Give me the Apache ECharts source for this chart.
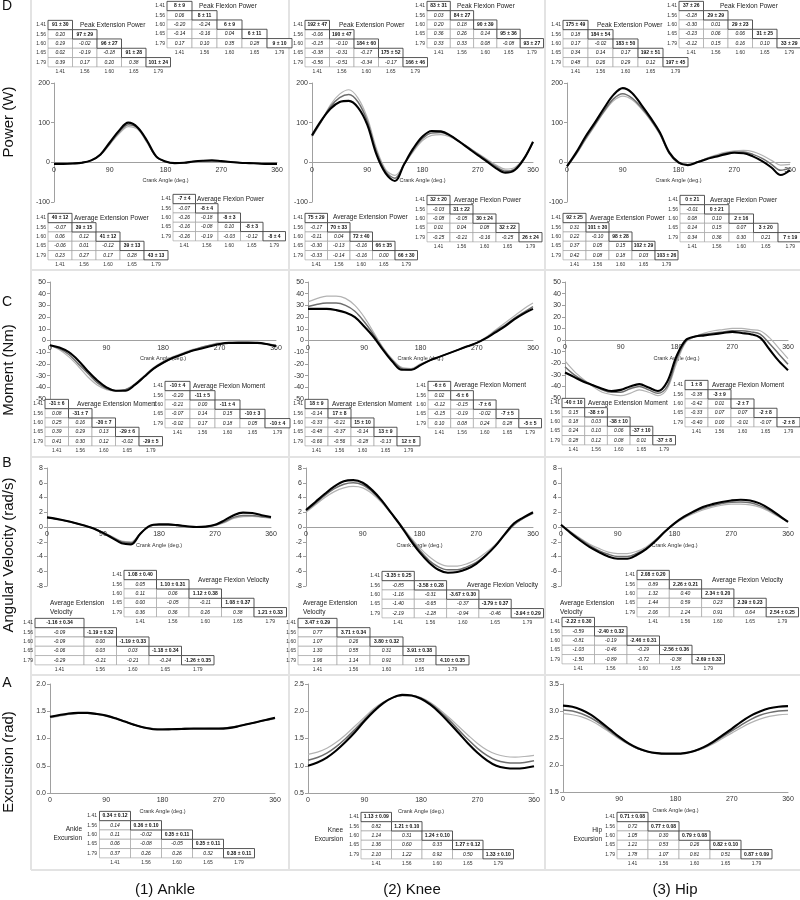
<!DOCTYPE html>
<html><head><meta charset="utf-8">
<script src="https://cdn.jsdelivr.net/npm/echarts@6/dist/echarts.min.js"></script>
<style>html,body{margin:0;padding:0;background:#fff}#c{width:800px;height:900px}</style>
</head><body><div id="c"></div>
<script>
// ---------------- DATA ----------------
const ang = [0,15,30,45,60,75,90,105,120,135,150,165,180,195,210,225,240,255,270,285,300,315,330,345,360];
const cad = ['1.41','1.56','1.60','1.65','1.79'];
const colNames = ['(1) Ankle','(2) Knee','(3) Hip'];
const rowNames = ['Power (W)','Moment (Nm)','Angular Velocity (rad/s)','Excursion (rad)'];
const rowLetters = ['D','C','B','A'];

// Power (W)
const ankPowL = [-4,-4,-3,-1,4,18,45,72,90,83,50,14,2,-2,-1,2,3,4,3,1,-1,-2,-3,-4,-4];
const ankPowG = [-4,-4,-3,-1,5,19,47,76,95,87,52,14,2,-2,-1,2,4,4,3,1,-1,-2,-3,-4,-4];
const ankPowK = [-4,-4,-3,-1,5,20,50,80,100,88,55,15,2,-2,-1,2,4,5,3,1,-1,-2,-3,-4,-4];
const knePowL = [64,102,145,172,183,162,113,35,-18,-33,-5,27,55,68,70,64,52,38,23,8,-7,-17,-13,10,50];
const knePowG = [66,103,140,163,171,152,104,27,-23,-40,-6,31,60,74,75,67,53,37,21,5,-11,-22,-17,9,51];
const knePowK = [68,105,135,152,155,138,95,20,-28,-47,-5,35,65,79,78,68,52,35,18,2,-15,-26,-20,8,52];
const hipPowL = [-10,20,57,92,127,155,167,158,135,106,70,22,-2,-5,1,10,18,25,29,30,27,18,5,-7,-5];
const hipPowG = [-10,22,60,95,130,160,173,162,138,108,72,23,-1,-6,0,9,16,22,26,26,20,10,-5,-20,-14];
const hipPowK = [-10,25,65,100,137,170,187,175,145,112,75,25,0,-7,0,8,14,20,24,23,15,3,-13,-32,-20];
// Moment (Nm)
const ankMomL = [-4,-8,-14,-22,-31,-38,-42,-43,-42,-37,-30,-23,-18,-14,-11,-8,-6,-4,-2,-2,-1,-1,-2,-3,-4];
const ankMomG = [-4,-7,-12,-20,-28,-36,-41,-43,-42,-38,-31,-24,-19,-15,-12,-9,-6,-4,-3,-2,-2,-2,-2,-3,-4];
const ankMomK = [-4,-6,-10,-17,-26,-34,-40,-43,-43,-38,-31,-24,-19,-15,-12,-9,-7,-5,-3,-2,-2,-2,-2,-3,-5];
const kneMomL = [33,36,38,38,36,30,20,7,-6,-16,-23,-24,-20,-17,-14,-11,-8,-5,-2,3,9,15,21,27,32];
const kneMomG = [29,31,32,32,30,25,16,5,-7,-17,-24,-25,-21,-17,-14,-11,-8,-5,-2,2,8,13,19,24,29];
const kneMomK = [27,27,27,26,24,20,12,3,-8,-18,-25,-25,-21,-17,-14,-11,-8,-5,-2,2,7,12,18,23,27];
const hipMomL = [-18,-27,-34,-40,-45,-47,-48,-46,-43,-45,-48,-42,-20,-2,3,6,8,9,10,10,9,8,2,-7,-16];
const hipMomG = [-23,-30,-35,-39,-43,-45,-45,-42,-40,-43,-46,-40,-17,-1,3,5,6,7,8,8,7,5,-3,-12,-21];
const hipMomK = [-28,-32,-36,-39,-42,-44,-43,-40,-38,-41,-44,-36,-14,0,3,4,5,6,7,6,5,2,-8,-18,-26];
// Angular velocity (rad/s)
const ankVelL = [1.25,1.05,0.8,0.5,0.2,-0.2,-0.7,-1.3,-1.9,-2.0,-0.85,0.1,0.3,0.3,0.2,0.05,0.0,0.05,0.2,0.6,1.15,1.4,1.45,1.35,1.2];
const ankVelG = [1.3,1.1,0.85,0.55,0.2,-0.2,-0.75,-1.4,-2.0,-2.15,-0.9,0.1,0.3,0.3,0.2,0.05,0.0,0.05,0.25,0.7,1.3,1.55,1.55,1.4,1.25];
const ankVelK = [1.3,1.1,0.85,0.55,0.2,-0.2,-0.8,-1.5,-2.2,-2.35,-0.9,0.15,0.35,0.35,0.25,0.1,0.0,0.05,0.3,0.9,1.6,1.95,1.9,1.6,1.35];
const kneVelL = [2.0,3.0,4.0,4.8,5.3,5.5,5.3,4.5,3.3,1.8,0.3,-1.3,-2.8,-4.0,-4.9,-5.3,-5.3,-5.0,-4.4,-3.5,-2.4,-1.0,0.3,1.2,1.8];
const kneVelG = [2.2,3.2,4.3,5.2,5.8,6.0,5.7,4.8,3.5,1.9,0.3,-1.5,-3.1,-4.5,-5.4,-5.8,-5.8,-5.4,-4.8,-3.8,-2.6,-1.1,0.3,1.2,1.9];
const kneVelK = [2.3,3.4,4.5,5.5,6.2,6.35,6.0,5.0,3.6,1.9,0.2,-1.7,-3.4,-4.8,-5.8,-6.2,-6.1,-5.7,-5.0,-3.9,-2.6,-1.0,0.5,1.3,2.0];
const hipVelL = [0.3,-0.6,-1.5,-2.3,-2.9,-3.4,-3.6,-3.6,-3.3,-2.7,-1.7,-0.6,0.4,1.2,1.8,2.3,2.7,2.95,3.1,3.1,3.0,2.7,2.1,1.4,0.7];
const hipVelG = [0.3,-0.7,-1.6,-2.5,-3.2,-3.7,-4.0,-4.0,-3.6,-2.9,-1.8,-0.6,0.5,1.3,2.0,2.5,2.9,3.2,3.35,3.4,3.3,2.9,2.3,1.5,0.7];
const hipVelK = [0.3,-0.8,-1.8,-2.7,-3.4,-4.0,-4.3,-4.3,-3.8,-3.0,-1.9,-0.6,0.5,1.4,2.1,2.7,3.1,3.4,3.6,3.7,3.6,3.2,2.5,1.6,0.7];
// Excursion (rad)
const ankExcL = [1.38,1.41,1.44,1.46,1.46,1.44,1.41,1.36,1.31,1.25,1.21,1.18,1.175,1.18,1.185,1.19,1.19,1.195,1.195,1.20,1.23,1.26,1.30,1.33,1.36];
const ankExcG = [1.39,1.42,1.45,1.465,1.465,1.45,1.42,1.37,1.31,1.25,1.20,1.18,1.17,1.175,1.18,1.185,1.19,1.19,1.19,1.20,1.22,1.26,1.30,1.34,1.37];
const ankExcK = [1.40,1.43,1.46,1.47,1.47,1.45,1.42,1.37,1.31,1.25,1.20,1.17,1.165,1.17,1.175,1.18,1.18,1.18,1.18,1.19,1.22,1.26,1.30,1.34,1.38];
const kneExcL = [1.21,1.25,1.32,1.43,1.57,1.73,1.89,2.05,2.17,2.25,2.29,2.29,2.25,2.16,2.03,1.88,1.72,1.56,1.41,1.29,1.21,1.17,1.16,1.17,1.19];
const kneExcG = [1.10,1.15,1.23,1.35,1.50,1.67,1.85,2.02,2.16,2.25,2.29,2.29,2.24,2.14,2.00,1.84,1.66,1.48,1.32,1.19,1.10,1.06,1.05,1.06,1.09];
const kneExcK = [1.00,1.06,1.15,1.28,1.44,1.62,1.82,2.00,2.15,2.25,2.30,2.29,2.23,2.12,1.97,1.79,1.60,1.41,1.24,1.10,1.00,0.96,0.95,0.96,0.99];
const hipExcL = [2.95,2.93,2.89,2.82,2.72,2.60,2.48,2.38,2.30,2.25,2.22,2.21,2.21,2.22,2.25,2.31,2.39,2.49,2.59,2.69,2.78,2.85,2.90,2.93,2.94];
const hipExcG = [3.02,3.00,2.95,2.87,2.76,2.63,2.50,2.39,2.30,2.25,2.22,2.21,2.21,2.22,2.26,2.32,2.41,2.52,2.63,2.74,2.84,2.92,2.97,3.00,3.01];
const hipExcK = [3.10,3.08,3.02,2.93,2.80,2.66,2.52,2.40,2.31,2.25,2.22,2.21,2.21,2.22,2.26,2.33,2.43,2.55,2.67,2.80,2.91,2.99,3.05,3.08,3.09];

// Tables: diagonal (mean ± sd) and lower-triangle correlations
const ankPkExtPowD = ['91 ± 30','97 ± 29','96 ± 27','91 ± 28','101 ± 24'];
const ankPkExtPowR = [['0.20'],['0.19','-0.02'],['0.02','-0.19','-0.18'],['0.39','0.17','0.20','0.38']];
const ankPkFlxPowD = ['8 ± 9','8 ± 11','6 ± 9','6 ± 11','9 ± 10'];
const ankPkFlxPowR = [['0.06'],['-0.20','-0.24'],['-0.14','-0.16','0.04'],['0.17','0.10','0.35','0.28']];
const ankAvFlxPowD = ['-7 ± 4','-8 ± 4','-8 ± 3','-8 ± 3','-8 ± 4'];
const ankAvFlxPowR = [['-0.07'],['-0.26','-0.18'],['-0.16','-0.08','0.10'],['-0.26','-0.19','-0.03','-0.12']];
const ankAvExtPowD = ['40 ± 12','39 ± 15','41 ± 12','39 ± 13','43 ± 13'];
const ankAvExtPowR = [['-0.07'],['0.06','0.12'],['-0.06','0.01','-0.12'],['0.23','0.27','0.17','0.28']];
const ankAvFlxMomD = ['-10 ± 4','-11 ± 5','-11 ± 4','-10 ± 3','-10 ± 4'];
const ankAvFlxMomR = [['-0.20'],['-0.21','0.00'],['-0.07','0.14','0.15'],['-0.02','0.17','0.18','0.05']];
const ankAvExtMomD = ['-31 ± 6','-31 ± 7','-30 ± 7','-29 ± 6','-29 ± 5'];
const ankAvExtMomR = [['0.08'],['0.25','0.16'],['0.39','0.29','0.13'],['0.41','0.30','0.12','-0.02']];
const ankAvFlxVelD = ['1.08 ± 0.40','1.10 ± 0.31','1.12 ± 0.38','1.08 ± 0.37','1.21 ± 0.33'];
const ankAvFlxVelR = [['0.05'],['0.11','0.06'],['0.00','-0.05','-0.11'],['0.36','0.36','0.26','0.38']];
const ankAvExtVelD = ['-1.16 ± 0.34','-1.19 ± 0.32','-1.19 ± 0.33','-1.18 ± 0.34','-1.26 ± 0.35'];
const ankAvExtVelR = [['-0.09'],['-0.09','0.00'],['-0.06','0.03','0.03'],['-0.29','-0.21','-0.21','-0.24']];
const ankExcD = ['0.34 ± 0.12','0.36 ± 0.10','0.35 ± 0.11','0.35 ± 0.11','0.38 ± 0.11'];
const ankExcR = [['0.14'],['0.11','-0.02'],['0.06','-0.08','-0.05'],['0.37','0.26','0.26','0.32']];
const knePkExtPowD = ['192 ± 47','190 ± 47','184 ± 60','175 ± 52','166 ± 46'];
const knePkExtPowR = [['-0.06'],['-0.15','-0.10'],['-0.38','-0.31','-0.17'],['-0.56','-0.51','-0.34','-0.17']];
const knePkFlxPowD = ['83 ± 31','84 ± 27','90 ± 39','95 ± 36','93 ± 27'];
const knePkFlxPowR = [['0.03'],['0.20','0.18'],['0.36','0.26','0.14'],['0.33','0.33','0.08','-0.08']];
const kneAvFlxPowD = ['32 ± 20','31 ± 22','30 ± 24','32 ± 22','26 ± 24'];
const kneAvFlxPowR = [['-0.03'],['-0.08','-0.05'],['0.01','0.04','0.08'],['-0.25','-0.21','-0.16','-0.25']];
const kneAvExtPowD = ['75 ± 29','70 ± 33','72 ± 40','66 ± 35','66 ± 30'];
const kneAvExtPowR = [['-0.17'],['-0.11','0.04'],['-0.30','-0.13','-0.16'],['-0.33','-0.14','-0.16','0.00']];
const kneAvFlxMomD = ['-6 ± 6','-6 ± 6','-7 ± 6','-7 ± 5','-5 ± 5'];
const kneAvFlxMomR = [['0.02'],['-0.12','-0.15'],['-0.15','-0.19','-0.02'],['0.10','0.08','0.24','0.28']];
const kneAvExtMomD = ['18 ± 9','17 ± 8','15 ± 10','13 ± 9','12 ± 8'];
const kneAvExtMomR = [['-0.14'],['-0.33','-0.21'],['-0.48','-0.37','-0.14'],['-0.66','-0.56','-0.28','-0.13']];
const kneAvFlxVelD = ['-3.35 ± 0.25','-3.58 ± 0.28','-3.67 ± 0.30','-3.79 ± 0.37','-3.94 ± 0.29'];
const kneAvFlxVelR = [['-0.85'],['-1.16','-0.31'],['-1.40','-0.65','-0.37'],['-2.19','-1.28','-0.94','-0.46']];
const kneAvExtVelD = ['3.47 ± 0.29','3.71 ± 0.34','3.80 ± 0.32','3.91 ± 0.38','4.10 ± 0.35'];
const kneAvExtVelR = [['0.77'],['1.07','0.26'],['1.30','0.55','0.31'],['1.96','1.14','0.91','0.53']];
const kneExcD = ['1.13 ± 0.09','1.21 ± 0.10','1.24 ± 0.10','1.27 ± 0.12','1.33 ± 0.10'];
const kneExcR = [['0.82'],['1.14','0.31'],['1.36','0.60','0.33'],['2.10','1.22','0.92','0.50']];
const hipPkExtPowD = ['175 ± 49','184 ± 54','183 ± 50','192 ± 51','197 ± 45'];
const hipPkExtPowR = [['0.18'],['0.17','-0.02'],['0.34','0.14','0.17'],['0.48','0.26','0.29','0.12']];
const hipPkFlxPowD = ['37 ± 26','29 ± 29','29 ± 23','31 ± 25','33 ± 29'];
const hipPkFlxPowR = [['-0.28'],['-0.30','0.01'],['-0.23','0.06','0.06'],['-0.12','0.15','0.16','0.10']];
const hipAvFlxPowD = ['0 ± 21','0 ± 21','2 ± 16','3 ± 20','7 ± 19'];
const hipAvFlxPowR = [['-0.01'],['0.08','0.10'],['0.14','0.15','0.07'],['0.34','0.36','0.30','0.21']];
const hipAvExtPowD = ['92 ± 25','101 ± 30','98 ± 28','102 ± 29','103 ± 26'];
const hipAvExtPowR = [['0.31'],['0.22','-0.10'],['0.37','0.05','0.15'],['0.42','0.08','0.18','0.03']];
const hipAvFlxMomD = ['1 ± 8','-3 ± 9','-2 ± 7','-2 ± 8','-2 ± 8'];
const hipAvFlxMomR = [['-0.38'],['-0.42','0.01'],['-0.33','0.07','0.07'],['-0.40','0.00','-0.01','-0.07']];
const hipAvExtMomD = ['-40 ± 10','-38 ± 9','-38 ± 10','-37 ± 10','-37 ± 8'];
const hipAvExtMomR = [['0.15'],['0.18','0.03'],['0.24','0.10','0.06'],['0.28','0.12','0.08','0.01']];
const hipAvFlxVelD = ['2.08 ± 0.20','2.26 ± 0.21','2.34 ± 0.20','2.39 ± 0.23','2.54 ± 0.25'];
const hipAvFlxVelR = [['0.89'],['1.32','0.40'],['1.44','0.59','0.23'],['2.06','1.24','0.91','0.64']];
const hipAvExtVelD = ['-2.22 ± 0.30','-2.40 ± 0.32','-2.46 ± 0.31','-2.56 ± 0.36','-2.69 ± 0.33'];
const hipAvExtVelR = [['-0.59'],['-0.81','-0.19'],['-1.03','-0.46','-0.29'],['-1.50','-0.89','-0.72','-0.38']];
const hipExcD = ['0.71 ± 0.08','0.77 ± 0.08','0.79 ± 0.08','0.82 ± 0.10','0.87 ± 0.09'];
const hipExcR = [['0.72'],['1.05','0.30'],['1.21','0.53','0.26'],['1.78','1.07','0.81','0.51']];

// ---------------- LAYOUT ----------------
const FF = '"Liberation Sans", Arial, sans-serif';
const lineStyles = [{c:'#b3b3b3', w:1.2},{c:'#6e6e6e', w:1.5},{c:'#000000', w:2.1}];

const panels = [
  {l:54, t:83, w:223, h:119, y:[-100,200,100], d:[ankPowL,ankPowG,ankPowK]},
  {l:312,t:83, w:221, h:119, y:[-100,200,100], d:[knePowL,knePowG,knePowK]},
  {l:567,t:83, w:223, h:119, y:[-100,200,100], d:[hipPowL,hipPowG,hipPowK]},
  {l:50, t:282,w:226, h:117, y:[-50,50,10], d:[ankMomL,ankMomG,ankMomK]},
  {l:308,t:282,w:225, h:117, y:[-50,50,10], d:[kneMomL,kneMomG,kneMomK]},
  {l:565,t:282,w:223, h:116, y:[-50,50,10], d:[hipMomL,hipMomG,hipMomK]},
  {l:47, t:468,w:224, h:118, y:[-8,8,2], d:[ankVelL,ankVelG,ankVelK]},
  {l:306,t:468,w:227, h:118, y:[-8,8,2], d:[kneVelL,kneVelG,kneVelK]},
  {l:561,t:468,w:227, h:118, y:[-8,8,2], d:[hipVelL,hipVelG,hipVelK]},
  {l:50, t:684,w:225, h:109, y:[0,2,0.5], d:[ankExcL,ankExcG,ankExcK], f:1},
  {l:308,t:684,w:226, h:109, y:[0.5,2.5,0.5], d:[kneExcL,kneExcG,kneExcK], f:1},
  {l:563,t:684,w:225, h:108, y:[1.5,3.5,0.5], d:[hipExcL,hipExcG,hipExcK], f:1}
];

const tables = [
  {d:ankPkExtPowD, r:ankPkExtPowR, lx:46, x0:48, cw:24.5, y0:25, title:'Peak Extension Power', tx:80, ty:25},
  {d:ankPkFlxPowD, r:ankPkFlxPowR, lx:165, x0:167, cw:25, y0:6, title:'Peak Flexion Power', tx:199, ty:6},
  {d:ankAvFlxPowD, r:ankAvFlxPowR, lx:171, x0:173, cw:22.5, y0:199, title:'Average Flexion Power', tx:197, ty:199},
  {d:ankAvExtPowD, r:ankAvExtPowR, lx:46, x0:48, cw:24, y0:218, title:'Average Extension Power', tx:74, ty:218},
  {d:ankAvFlxMomD, r:ankAvFlxMomR, lx:163, x0:165, cw:25, y0:386, title:'Average Flexion Moment', tx:193, ty:386},
  {d:ankAvExtMomD, r:ankAvExtMomR, lx:43, x0:45, cw:23.5, y0:404, title:'Average Extension Moment', tx:77, ty:404},
  {d:ankAvFlxVelD, r:ankAvFlxVelR, lx:122, x0:124, cw:32.5, y0:575, title:'Average Flexion Velocity', tx:198, ty:580},
  {d:ankAvExtVelD, r:ankAvExtVelR, lx:33, x0:35, w0:49, cw:32.5, y0:623, title:'Average Extension\nVelocity', tx:50, ty:607.5},
  {d:ankExcD, r:ankExcR, lx:97, x0:99.5, cw:31, y0:816, title:'Ankle\nExcursion', tx:82, ty:834, ta:'right'},
  {d:knePkExtPowD, r:knePkExtPowR, lx:303, x0:305, cw:24.5, y0:25, title:'Peak Extension Power', tx:339, ty:25},
  {d:knePkFlxPowD, r:knePkFlxPowR, lx:425, x0:427, cw:23.3, y0:6, title:'Peak Flexion Power', tx:457, ty:6},
  {d:kneAvFlxPowD, r:kneAvFlxPowR, lx:425, x0:427, cw:23, y0:200, title:'Average Flexion Power', tx:454, ty:200},
  {d:kneAvExtPowD, r:kneAvExtPowR, lx:303, x0:305, cw:22.5, y0:218, title:'Average Extension Power', tx:333, ty:217},
  {d:kneAvFlxMomD, r:kneAvFlxMomR, lx:426, x0:428, cw:22.7, y0:386, title:'Average Flexion Moment', tx:454, ty:385},
  {d:kneAvExtMomD, r:kneAvExtMomR, lx:303, x0:305, cw:23, y0:404, title:'Average Extension Moment', tx:332, ty:404},
  {d:kneAvFlxVelD, r:kneAvFlxVelR, lx:380, x0:382, cw:32.3, y0:576, title:'Average Flexion Velocity', tx:467, ty:585},
  {d:kneAvExtVelD, r:kneAvExtVelR, lx:296, x0:298, w0:39, cw:33, y0:623, title:'Average Extension\nVelocity', tx:303, ty:607.5},
  {d:kneExcD, r:kneExcR, lx:359, x0:361, cw:30.5, y0:817, title:'Knee\nExcursion', tx:343, ty:834.5, ta:'right'},
  {d:hipPkExtPowD, r:hipPkExtPowR, lx:561, x0:563, cw:25, y0:25, title:'Peak Extension Power', tx:597, ty:25},
  {d:hipPkFlxPowD, r:hipPkFlxPowR, lx:677, x0:679, cw:24.5, y0:6, title:'Peak Flexion Power', tx:720, ty:6},
  {d:hipAvFlxPowD, r:hipAvFlxPowR, lx:678, x0:680, cw:24.5, y0:200, title:'Average Flexion Power', tx:710, ty:200},
  {d:hipAvExtPowD, r:hipAvExtPowR, lx:561, x0:563, cw:23, y0:218, title:'Average Extension Power', tx:590, ty:218},
  {d:hipAvFlxMomD, r:hipAvFlxMomR, lx:683, x0:685, cw:23, y0:385, title:'Average Flexion Moment', tx:712, ty:385},
  {d:hipAvExtMomD, r:hipAvExtMomR, lx:560, x0:562, cw:22.7, y0:403, title:'Average Extension Moment', tx:588, ty:403},
  {d:hipAvFlxVelD, r:hipAvFlxVelR, lx:635, x0:637, cw:32.3, y0:575, title:'Average Flexion Velocity', tx:712, ty:580},
  {d:hipAvExtVelD, r:hipAvExtVelR, lx:560, x0:562, cw:32.5, y0:622, title:'Average Extension\nVelocity', tx:560, ty:608},
  {d:hipExcD, r:hipExcR, lx:615, x0:617, cw:31, y0:817, title:'Hip\nExcursion', tx:602, ty:835, ta:'right'}
];

// ---------------- BUILD ----------------
const grids=[], xAxes=[], yAxes=[], series=[];
panels.forEach((p,i)=>{
  grids.push({left:p.l, top:p.t, width:p.w, height:p.h, containLabel:false, outerBoundsMode:'none'});
  // place the x axis at value 0 of the y scale (or at the bottom when 0 is out of range)
  const zeroFrac = (p.y[0] < 0 && p.y[1] > 0) ? (0 - p.y[0]) / (p.y[1] - p.y[0]) : 0;
  xAxes.push({type:'value', gridIndex:i, min:0, max:360, interval:90, position:'bottom',
    offset: -zeroFrac * p.h,
    axisLine:{show:true, onZero:false, lineStyle:{color:'#a0a0a0', width:1}},
    axisTick:{show:false}, splitLine:{show:false},
    axisLabel:{fontSize:7, color:'#333', margin:4, fontFamily:FF},
    name:'Crank Angle (deg.)', nameLocation:'middle', nameGap:15,
    nameTextStyle:{fontSize:5.5, color:'#333', fontFamily:FF}});
  yAxes.push({type:'value', gridIndex:i, min:p.y[0], max:p.y[1], interval:p.y[2],
    axisLine:{show:true, onZero:false, lineStyle:{color:'#a0a0a0', width:1}},
    axisTick:{show:true, length:3, lineStyle:{color:'#a0a0a0'}}, splitLine:{show:false},
    axisLabel:{fontSize:7, color:'#333', margin:4, fontFamily:FF,
      formatter: p.f ? (v=>v.toFixed(1)) : (v=>String(v))}});
  p.d.forEach((arr,k)=>series.push({type:'line', xAxisIndex:i, yAxisIndex:i,
    data: ang.map((a,n)=>[a,arr[n]]), smooth:0.35, showSymbol:false, symbol:'none',
    lineStyle:{color:lineStyles[k].c, width:lineStyles[k].w}, z:2+k, silent:true}));
});

const els = [];
function T(x,y,text,align,font,fill,extra){
  return Object.assign({type:'text', x:x, y:y, silent:true, z:100,
    style:{text:text, font:font, fill:fill||'#222', textAlign:align, textVerticalAlign:'middle',
      align:align, verticalAlign:'middle', lineHeight:9}}, extra||{});
}
// separators
const sepC = '#e3e3e3';
[[31,0,31,870],[289,0,289,870],[545,0,545,870],[31,270,800,270],[31,457,800,457],[31,675,800,675],[31,870,800,870]].forEach(s=>{
  els.push({type:'line', silent:true, z:0, shape:{x1:s[0],y1:s[1],x2:s[2],y2:s[3]}, style:{stroke:sepC, lineWidth:2}});
});
// row letters & axis titles
const letterY = [6, 302, 463, 683];
rowLetters.forEach((L,i)=>els.push(T(7, letterY[i], L, 'center', '14px '+FF, '#111')));
const titleY = [122, 370, 555, 762];
rowNames.forEach((n,i)=>els.push(T(9, titleY[i], n, 'center', '15px '+FF, '#111', {rotation:Math.PI/2})));
const colX = [165, 412, 675];
colNames.forEach((n,i)=>els.push(T(colX[i], 890, n, 'center', '15px '+FF, '#111')));

// tables
const RH = 9.3;
const fLab = '5px '+FF, fOff = 'italic 5px '+FF, fDia = 'bold 5px '+FF, fTit = '6.5px '+FF;
tables.forEach(t=>{
  const widths = [0,1,2,3,4].map(j=> (j===0 && t.w0) ? t.w0 : t.cw);
  const xs = []; let acc = t.x0; widths.forEach(w=>{xs.push(acc); acc+=w;});
  for (let i=0;i<5;i++){
    const cy = t.y0 + i*RH;
    els.push(T(t.lx, cy, cad[i], 'right', fLab, '#333'));
    for (let j=0;j<=i;j++){
      const dia = (j===i);
      els.push({type:'rect', silent:true, z:dia?102:101,
        shape:{x:xs[j], y:cy-RH/2, width:widths[j], height:RH},
        style:{fill:'#fff', stroke: dia?'#444':'#9a9a9a', lineWidth: dia?0.9:0.6}});
      els.push(T(xs[j]+widths[j]/2, cy, dia ? t.d[i] : t.r[i-1][j], 'center', dia?fDia:fOff, '#111', {z:103}));
    }
  }
  for (let j=0;j<5;j++) els.push(T(xs[j]+widths[j]/2, t.y0+5*RH, cad[j], 'center', fLab, '#333'));
  els.push(T(t.tx, t.ty, t.title, t.ta||'left', fTit, '#222'));
});

const chart = echarts.init(document.getElementById('c'), null, {renderer:'canvas', width:800, height:900});
chart.setOption({
  animation:false,
  backgroundColor:'#fff',
  grid:grids, xAxis:xAxes, yAxis:yAxes, series:series,
  graphic:{elements:els}
});
</script>
</body></html>
